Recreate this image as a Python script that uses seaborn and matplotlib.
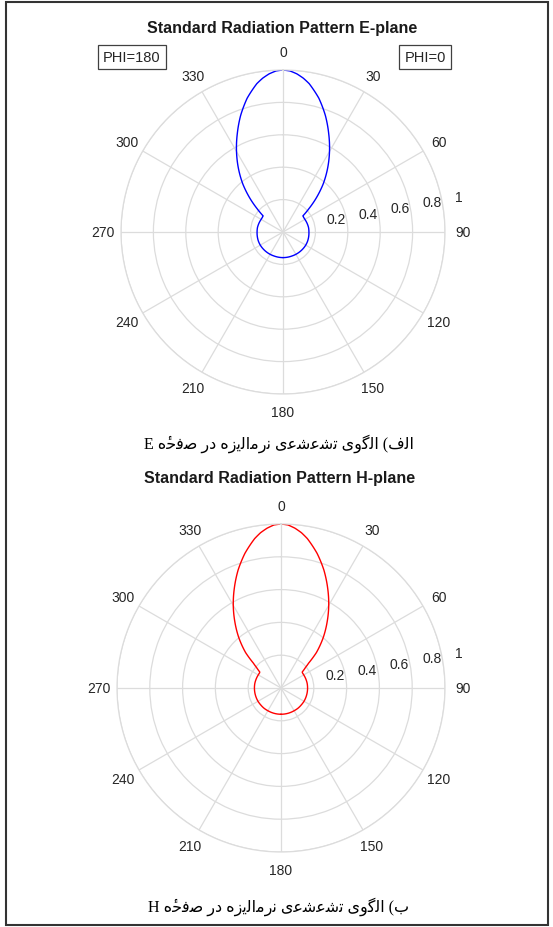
import numpy as np
import pandas as pd
import matplotlib.pyplot as plt
import seaborn as sns
from matplotlib.patches import Rectangle
from matplotlib.transforms import ScaledTranslation


sns.set_theme(style="white")
plt.rcParams['font.family'] = ['Liberation Sans', 'DejaVu Sans']

# normalized patterns (0..180 deg, both patterns are symmetric)
e_theta = [0, 2.5, 5, 7.5, 10, 15, 20, 25, 30, 35, 40, 45, 48, 51, 55, 60, 70, 80, 90,
           100, 110, 120, 130, 140, 150, 160, 170, 180]
e_r = [1.0, 0.995, 0.98, 0.958, 0.93, 0.855, 0.765, 0.668, 0.574, 0.48, 0.385, 0.28,
       0.215, 0.158, 0.156, 0.156, 0.158, 0.16, 0.16, 0.161, 0.162, 0.162, 0.161,
       0.16, 0.159, 0.158, 0.158, 0.158]

h_theta = [0, 2.5, 5, 7.5, 10, 15, 20, 25, 30, 35, 40, 45, 48, 50, 53, 55, 60, 70, 80,
           90, 100, 110, 120, 130, 140, 150, 160, 170, 180]
h_r = [1.0, 0.995, 0.978, 0.955, 0.925, 0.85, 0.765, 0.673, 0.582, 0.49, 0.4, 0.305,
       0.227, 0.195, 0.162, 0.16, 0.16, 0.161, 0.162, 0.162, 0.162, 0.162, 0.162,
       0.161, 0.161, 0.16, 0.16, 0.16, 0.16]

theta_ticks = [0, 30, 60, 90, 120, 150, 180, 210, 240, 270, 300, 330]
r_ticks = [0.2, 0.4, 0.6, 0.8, 1.0]
r_tick_labels = ['0.2', '0.4', '0.6', '0.8', '1']

titles = ['Standard Radiation Pattern E-plane', 'Standard Radiation Pattern H-plane']
captions = ['الف) الگوی تشعشعی نرمالیزه در صفحهٔ E',
            'ب) الگوی تشعشعی نرمالیزه در صفحهٔ H']
phi_labels = ['PHI=180', 'PHI=0']


# matplotlib has no arabic shaping, so pick the presentation forms by hand
AR_FORMS = {
    '\u0627': (0xFE8D, 0xFE8E, None, None),
    '\u0628': (0xFE8F, 0xFE90, 0xFE91, 0xFE92),
    '\u062A': (0xFE95, 0xFE96, 0xFE97, 0xFE98),
    '\u062D': (0xFEA1, 0xFEA2, 0xFEA3, 0xFEA4),
    '\u062F': (0xFEA9, 0xFEAA, None, None),
    '\u0631': (0xFEAD, 0xFEAE, None, None),
    '\u0632': (0xFEAF, 0xFEB0, None, None),
    '\u0634': (0xFEB5, 0xFEB6, 0xFEB7, 0xFEB8),
    '\u0635': (0xFEB9, 0xFEBA, 0xFEBB, 0xFEBC),
    '\u0639': (0xFEC9, 0xFECA, 0xFECB, 0xFECC),
    '\u0641': (0xFED1, 0xFED2, 0xFED3, 0xFED4),
    '\u0644': (0xFEDD, 0xFEDE, 0xFEDF, 0xFEE0),
    '\u0645': (0xFEE1, 0xFEE2, 0xFEE3, 0xFEE4),
    '\u0646': (0xFEE5, 0xFEE6, 0xFEE7, 0xFEE8),
    '\u0647': (0xFEE9, 0xFEEA, 0xFEEB, 0xFEEC),
    '\u0648': (0xFEED, 0xFEEE, None, None),
    '\u06CC': (0xFBFC, 0xFBFD, 0xFBFE, 0xFBFF),
    '\u06AF': (0xFB92, 0xFB93, 0xFB94, 0xFB95),
}
MARKS = {'\u0654'}
MIRROR = {'(': ')', ')': '('}


def shape_rtl(text):
    clusters = []
    for c in text:
        if c in MARKS and clusters:
            clusters[-1].append(c)
        else:
            clusters.append([c])
    for k, cl in enumerate(clusters):
        c = cl[0]
        if c in AR_FORMS:
            prev = clusters[k - 1][0] if k > 0 else ''
            nxt = clusters[k + 1][0] if k + 1 < len(clusters) else ''
            join_prev = prev in AR_FORMS and AR_FORMS[prev][2] is not None
            join_next = nxt in AR_FORMS and AR_FORMS[c][2] is not None
            iso, fin, ini, med = AR_FORMS[c]
            if join_prev and join_next:
                g = med
            elif join_prev:
                g = fin
            elif join_next:
                g = ini
            else:
                g = iso
            cl[0] = chr(g)
        else:
            cl[0] = MIRROR.get(c, c)
    return ''.join(''.join(cl) for cl in clusters[::-1])


def full_pattern(theta, r):
    th = np.array(theta, dtype=float)
    rr = np.array(r, dtype=float)
    return pd.DataFrame({
        'theta': np.deg2rad(np.r_[-th[::-1], th[1:]]),
        'r': np.r_[rr[::-1], rr[1:]],
    })


def style_polar(ax):
    ax.set_theta_zero_location('N')
    ax.set_theta_direction(-1)
    ax.set_ylim(0, 1)
    ax.set_xticks(np.deg2rad(theta_ticks))
    ax.set_xticklabels([str(t) for t in theta_ticks], fontsize=10, color='#262626')
    ax.set_yticks(r_ticks)
    ax.set_yticklabels(r_tick_labels, fontsize=10, color='#262626')
    ax.set_rlabel_position(80)
    ax.tick_params(axis='x', size=0, pad=6)
    ax.grid(True, color='#dcdcdc', lw=0.9)
    ax.spines['polar'].set_color('#dcdcdc')
    ax.spines['polar'].set_linewidth(0.9)
    ax.set_xlabel('')
    ax.set_ylabel('')
    # radius labels sit a bit to the right of the rings
    shift = ScaledTranslation(12 / 100, 0, ax.figure.dpi_scale_trans)
    for lab in ax.get_yticklabels():
        lab.set_transform(lab.get_transform() + shift)
    # draw the pattern as a curve in (theta, r), not as straight chords
    for line in ax.lines:
        line.get_path()._interpolation_steps = 12


fig = plt.figure(figsize=(5.53, 9.28), dpi=100)
W, H = 553, 928

# axes placed from pixel centre and radius
ax_e = fig.add_axes([(283 - 162) / W, 1 - (233 + 162) / H, 324 / W, 324 / H], projection='polar')
ax_h = fig.add_axes([(281 - 164) / W, 1 - (689 + 164) / H, 328 / W, 328 / H], projection='polar')

sns.lineplot(data=full_pattern(e_theta, e_r), x='theta', y='r', sort=False,
             estimator=None, color='#0000ff', lw=1, ax=ax_e)
sns.lineplot(data=full_pattern(h_theta, h_r), x='theta', y='r', sort=False,
             estimator=None, color='#ff0000', lw=1, ax=ax_h)

for ax in (ax_e, ax_h):
    style_polar(ax)

fig.text(282 / W, 1 - 28 / H, titles[0], ha='center', va='center',
         fontsize=11.5, fontweight='bold', color='#1a1a1a')
fig.text(280 / W, 1 - 479 / H, titles[1], ha='center', va='center',
         fontsize=11.5, fontweight='bold', color='#1a1a1a')

box = dict(boxstyle='square,pad=0.35', facecolor='white', edgecolor='#404040', lw=0.9)
fig.text(132 / W, 1 - 58 / H, phi_labels[0], ha='center', va='center', fontsize=10.5, bbox=box)
fig.text(425 / W, 1 - 58 / H, phi_labels[1], ha='center', va='center', fontsize=10.5, bbox=box)

cap_font = ['Liberation Serif', 'DejaVu Sans']
fig.text(279 / W, 1 - 444 / H, shape_rtl(captions[0]), ha='center', va='center',
         fontsize=11.5, family=cap_font, color='black')
fig.text(279 / W, 1 - 907 / H, shape_rtl(captions[1]), ha='center', va='center',
         fontsize=11.5, family=cap_font, color='black')

fig.add_artist(Rectangle((6 / W, 2 / H), 542 / W, 923 / H, transform=fig.transFigure,
                         fill=False, edgecolor='#333333', lw=1.5))

plt.savefig('out.png', dpi=100)
